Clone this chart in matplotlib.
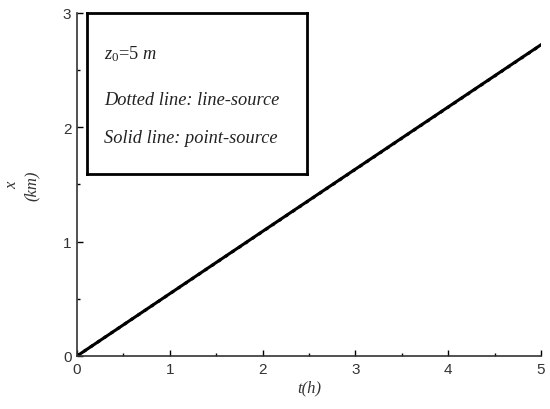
import numpy as np
import matplotlib.pyplot as plt
from matplotlib.ticker import MultipleLocator

plt.rcParams['mathtext.fontset'] = 'custom'
plt.rcParams['mathtext.it'] = 'Liberation Serif:italic'
plt.rcParams['mathtext.rm'] = 'Liberation Serif'

# data
t_h = [0, 1, 2, 3, 4, 5]
x_line = [0, 0.544, 1.088, 1.632, 2.176, 2.72]    # line-source (dotted)
x_point = [0, 0.545, 1.09, 1.634, 2.178, 2.722]   # point-source (solid)

fig = plt.figure(figsize=(5.5, 4.1), dpi=100)
ax = fig.add_axes([0.14, 0.1293, 0.8436, 0.8366])

ax.plot(t_h, x_point, '-', color='black', linewidth=2.2)
ax.plot(t_h, x_line, ':', color='black', linewidth=2.2)

ax.set_xlim(0, 5)
ax.set_ylim(0, 3)
ax.xaxis.set_major_locator(MultipleLocator(1))
ax.xaxis.set_minor_locator(MultipleLocator(0.5))
ax.yaxis.set_major_locator(MultipleLocator(1))
ax.yaxis.set_minor_locator(MultipleLocator(0.5))
ax.tick_params(which='major', direction='in', length=4, width=1, labelsize=11, pad=4)
ax.tick_params(which='minor', direction='in', length=2, width=1)
for lab in ax.get_xticklabels() + ax.get_yticklabels():
    lab.set_family('Liberation Sans')
    lab.set_color('#333333')

for s in ['top', 'right']:
    ax.spines[s].set_visible(False)
for s in ['left', 'bottom']:
    ax.spines[s].set_linewidth(1.2)
    ax.spines[s].set_color('#333333')

serif = dict(family='Liberation Serif', style='italic', color='#333333')
ax.set_xlabel('t(h)', fontsize=12, labelpad=3, **serif)
ax.set_ylabel('x\n(km)', fontsize=12, labelpad=17, linespacing=1.3, **serif)

# annotation box
box = fig.add_axes([0.158, 0.573, 0.40, 0.393])
box.set_xticks([])
box.set_yticks([])
for s in box.spines.values():
    s.set_linewidth(2)
    s.set_color('black')
txt = dict(fontsize=13.2, transform=box.transAxes, va='center',
           family='Liberation Serif', color='#222222')
box.text(0.08, 0.75, r'$z_0$=5 $m$', **txt)
box.text(0.08, 0.46, 'Dotted line: line-source', style='italic', **txt)
box.text(0.08, 0.23, 'Solid line: point-source', style='italic', **txt)

fig.savefig('out.png', dpi=100)
